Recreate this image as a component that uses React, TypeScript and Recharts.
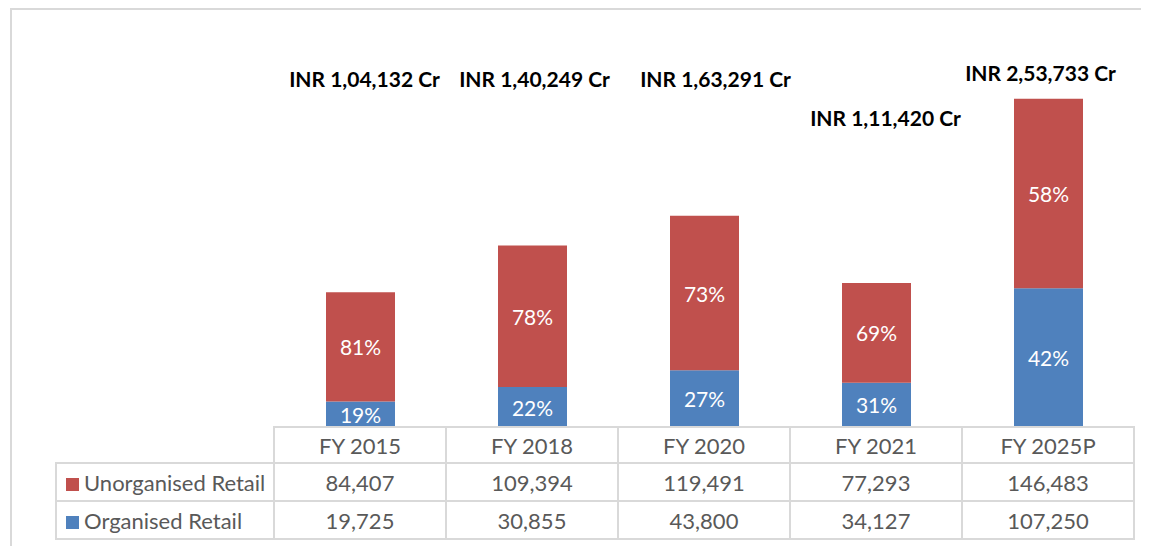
import React from 'react';
import { BarChart, Bar, XAxis, YAxis, LabelList } from 'recharts';

const categories = ['FY 2015', 'FY 2018', 'FY 2020', 'FY 2021', 'FY 2025P'];
const organised = [19725, 30855, 43800, 34127, 107250];
const unorganised = [84407, 109394, 119491, 77293, 146483];

const RED = '#C0504D';
const BLUE = '#4F81BD';
const GRID = '#D9D9D9';
const FONT = 'Lato, "Open Sans", sans-serif';

// manual placement of the "INR ... Cr" callouts (they sit in text boxes in the original)
const totalDx = [4, 2, 11, 9, -8];
const totalY = [70, 70, 70, 109, 64];

// Indian digit grouping: 1,04,132
function inr(n: number) {
  const s = String(n);
  if (s.length <= 3) return s;
  const last3 = s.slice(-3);
  let rest = s.slice(0, -3);
  const parts: string[] = [];
  while (rest.length > 2) {
    parts.unshift(rest.slice(-2));
    rest = rest.slice(0, -2);
  }
  if (rest) parts.unshift(rest);
  return parts.join(',') + ',' + last3;
}

const chartData = categories.map((name, i) => ({
  name,
  organised: organised[i],
  unorganised: unorganised[i],
  total: organised[i] + unorganised[i],
}));

const pctLabel = (key: 'organised' | 'unorganised') => (props: any) => {
  const { x, y, width, height, index } = props;
  const d = chartData[index];
  const pct = Math.round((d[key] / d.total) * 100);
  return (
    <text
      x={x + width / 2}
      y={y + height / 2}
      textAnchor="middle"
      dominantBaseline="central"
      fill="#fff"
      fontSize={21}
      fontFamily={FONT}
    >
      {pct}%
    </text>
  );
};

const totalLabel = (props: any) => {
  const { x, width, index } = props;
  const d = chartData[index];
  return (
    <text
      x={x + width / 2 + totalDx[index]}
      y={totalY[index]}
      textAnchor="middle"
      dominantBaseline="central"
      fill="#000"
      fontSize={21}
      fontWeight={700}
      fontFamily={FONT}
    >
      {`INR ${inr(d.total)} Cr`}
    </text>
  );
};

const cell: React.CSSProperties = {
  border: `2px solid ${GRID}`,
  textAlign: 'center',
  padding: 0,
  color: '#595959',
  fontSize: 22,
  fontFamily: FONT,
};

function DataTable() {
  const rows = [
    { label: 'Unorganised Retail', color: RED, values: unorganised },
    { label: 'Organised Retail', color: BLUE, values: organised },
  ];
  return (
    <table
      style={{
        position: 'absolute',
        left: 47,
        top: 418,
        width: 1080,
        borderCollapse: 'collapse',
        tableLayout: 'fixed',
      }}
    >
      <colgroup>
        <col style={{ width: 218 }} />
        {categories.map((c) => (
          <col key={c} style={{ width: 172 }} />
        ))}
      </colgroup>
      <tbody>
        <tr style={{ height: 36 }}>
          <td style={{ ...cell, border: 'none' }} />
          {categories.map((c) => (
            <td key={c} style={cell}>
              {c}
            </td>
          ))}
        </tr>
        {rows.map((r) => (
          <tr key={r.label} style={{ height: 38 }}>
            <td style={{ ...cell, textAlign: 'left', paddingLeft: 9, whiteSpace: 'nowrap' }}>
              <span
                style={{
                  display: 'inline-block',
                  width: 13,
                  height: 13,
                  background: r.color,
                  marginRight: 5,
                }}
              />
              {r.label}
            </td>
            {r.values.map((v, i) => (
              <td key={i} style={cell}>
                {v.toLocaleString('en-US')}
              </td>
            ))}
          </tr>
        ))}
      </tbody>
    </table>
  );
}

export default function App() {
  return (
    <div style={{ position: 'relative', width: 1141, height: 538, overflow: 'hidden', background: '#fff' }}>
      <div
        style={{
          position: 'absolute',
          left: 2,
          top: 0,
          width: 1200,
          height: 600,
          borderTop: `2px solid ${GRID}`,
          borderLeft: `2px solid ${GRID}`,
        }}
      />
      <div style={{ position: 'absolute', left: 0, top: 0 }}>
        <BarChart
          width={1141}
          height={538}
          data={chartData}
          margin={{ top: 31, right: 15, bottom: 119, left: 266 }}
        >
          <XAxis dataKey="name" hide />
          <YAxis hide domain={[0, 300000]} />
          <Bar dataKey="organised" stackId="a" fill={BLUE} barSize={69} isAnimationActive={false}>
            <LabelList dataKey="organised" content={pctLabel('organised')} />
          </Bar>
          <Bar dataKey="unorganised" stackId="a" fill={RED} barSize={69} isAnimationActive={false}>
            <LabelList dataKey="unorganised" content={pctLabel('unorganised')} />
            <LabelList dataKey="total" content={totalLabel} />
          </Bar>
        </BarChart>
      </div>
      <DataTable />
    </div>
  );
}
